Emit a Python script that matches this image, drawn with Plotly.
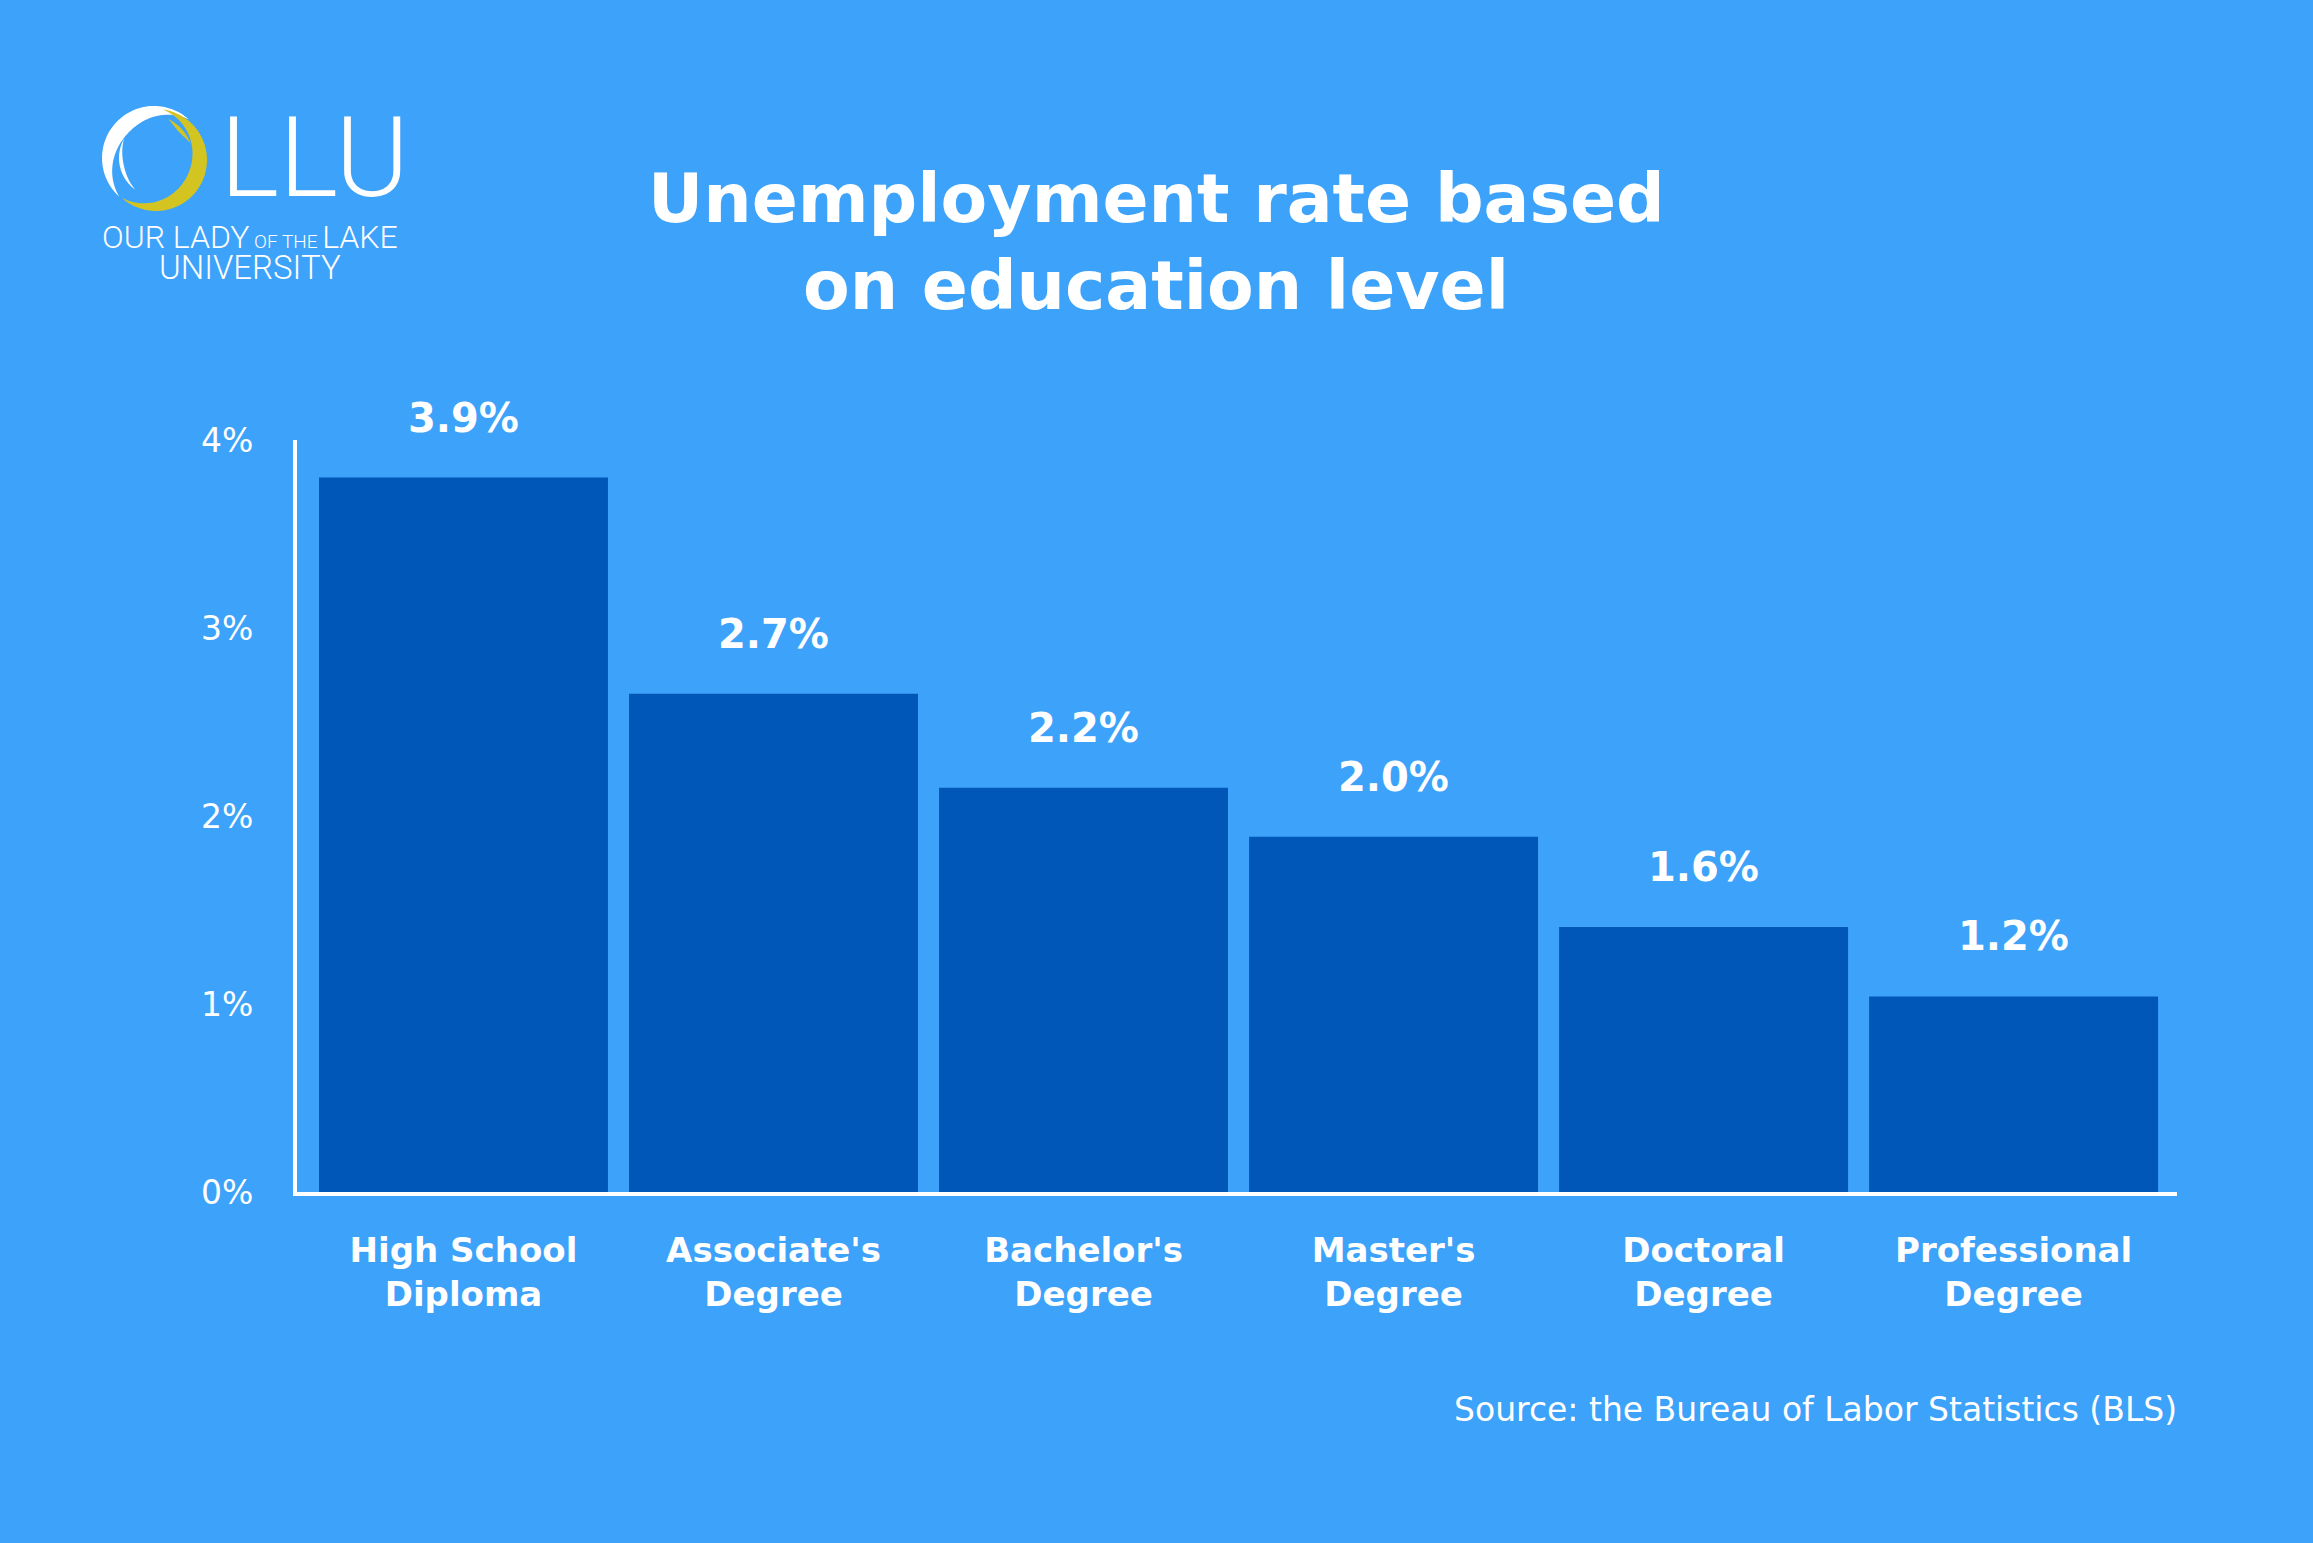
import numpy as np
import plotly.graph_objects as go

# data
categories = ["High School<br>Diploma", "Associate's<br>Degree", "Bachelor's<br>Degree",
              "Master's<br>Degree", "Doctoral<br>Degree", "Professional<br>Degree"]
bar_heights = [3.80, 2.65, 2.15, 1.89, 1.41, 1.04]   # heights as drawn
bar_labels = ["3.9%", "2.7%", "2.2%", "2.0%", "1.6%", "1.2%"]
y_ticks = [0, 1, 2, 3, 4]
y_tick_text = ["0%", "1%", "2%", "3%", "4%"]
title_lines = ["Unemployment rate based", "on education level"]

BG = "#3DA2F9"
BAR = "#0057B8"
GOLD = "#D4C421"
FONT = "DejaVu Sans"
LOGO_FONT = "Roboto"

W, H = 2313, 1543
ML, MR, MT, MB = 297, 136, 440, 351
PW, PH = W - ML - MR, H - MT - MB


def px(x):
    return (x - ML) / PW


def py(y):
    return (H - MB - y) / PH


def crescent(cx, cy, r, a0, a1, thick, n=60):
    # tapered arc, angles in degrees (counter-clockwise, screen y down)
    t = np.linspace(0, 1, n)
    ang = np.radians(a0 + (a1 - a0) * t)
    w = thick * np.sin(np.pi * t)
    outer = [(cx + r * np.cos(a), cy - r * np.sin(a)) for a in ang]
    inner = [(cx + (r - d) * np.cos(a), cy - (r - d) * np.sin(a)) for a, d in zip(ang[::-1], w[::-1])]
    pts = outer + inner
    return "M " + " L ".join(f"{px(x):.5f},{py(y):.5f}" for x, y in pts) + " Z"


fig = go.Figure()
fig.add_trace(go.Bar(x=categories, y=bar_heights, marker_color=BAR,
                     marker_line_width=0, hoverinfo="skip"))

annotations = []
for c, h, t in zip(categories, bar_heights, bar_labels):
    annotations.append(dict(x=c, y=h, text=t, showarrow=False, yshift=60, yanchor="middle",
                            font=dict(family=FONT, size=40, color="white", weight="bold")))

for line, ypix in zip(title_lines, [199, 285]):
    annotations.append(dict(xref="paper", yref="paper", x=px(1156), y=py(ypix), text=line,
                            showarrow=False, xanchor="center", yanchor="middle",
                            font=dict(family=FONT, size=68, color="white", weight="bold")))

annotations += [
    dict(xref="paper", yref="paper", x=px(2179), y=py(1409),
         text="Source: the Bureau of Labor Statistics (BLS)", showarrow=False,
         xanchor="right", yanchor="middle",
         font=dict(family=FONT, size=33, color="white")),
    # logo text
    dict(xref="paper", yref="paper", x=px(314), y=py(157), text="LLU", showarrow=False,
         xanchor="center", yanchor="middle",
         font=dict(family=LOGO_FONT, size=112, color="white", weight=300)),
    dict(xref="paper", yref="paper", x=px(250), y=py(237),
         text="OUR LADY<span style='font-size:19px'> OF THE </span>LAKE", showarrow=False,
         xanchor="center", yanchor="middle",
         font=dict(family=LOGO_FONT, size=32, color="white", weight=300)),
    dict(xref="paper", yref="paper", x=px(250), y=py(268), text="UNIVERSITY", showarrow=False,
         xanchor="center", yanchor="middle",
         font=dict(family=LOGO_FONT, size=33, color="white", weight=300)),
]

shapes = [
    dict(type="path", xref="paper", yref="paper", path=crescent(154, 158, 52, 48, 228, 16),
         fillcolor="white", line_width=0),
    dict(type="path", xref="paper", yref="paper", path=crescent(156, 160, 51, 82, -132, 16),
         fillcolor=GOLD, line_width=0),
    dict(type="path", xref="paper", yref="paper", path=crescent(158, 158, 39, 150, 235, 4),
         fillcolor="white", line_width=0),
    dict(type="path", xref="paper", yref="paper", path=crescent(150, 158, 43, 65, 20, 4),
         fillcolor=GOLD, line_width=0),
]

fig.update_layout(
    width=W, height=H,
    margin=dict(l=ML, r=MR, t=MT, b=MB),
    paper_bgcolor=BG, plot_bgcolor=BG,
    bargap=0.068,
    showlegend=False,
    annotations=annotations,
    shapes=shapes,
    xaxis=dict(type="category", range=[-0.537, 5.527], showline=True, linecolor="white",
               linewidth=4, showgrid=False, zeroline=False, ticks="", ticklabelstandoff=25,
               tickfont=dict(family=FONT, size=34, color="white", weight="bold")),
    yaxis=dict(range=[0, 4], tickvals=y_ticks, ticktext=y_tick_text, showline=True,
               linecolor="white", linewidth=4, showgrid=False, zeroline=False, ticks="",
               ticklabelstandoff=33,
               tickfont=dict(family=FONT, size=33, color="white")),
)

fig.write_html("out.html", config={"displayModeBar": False},
               post_script="document.body.style.margin='0';")
